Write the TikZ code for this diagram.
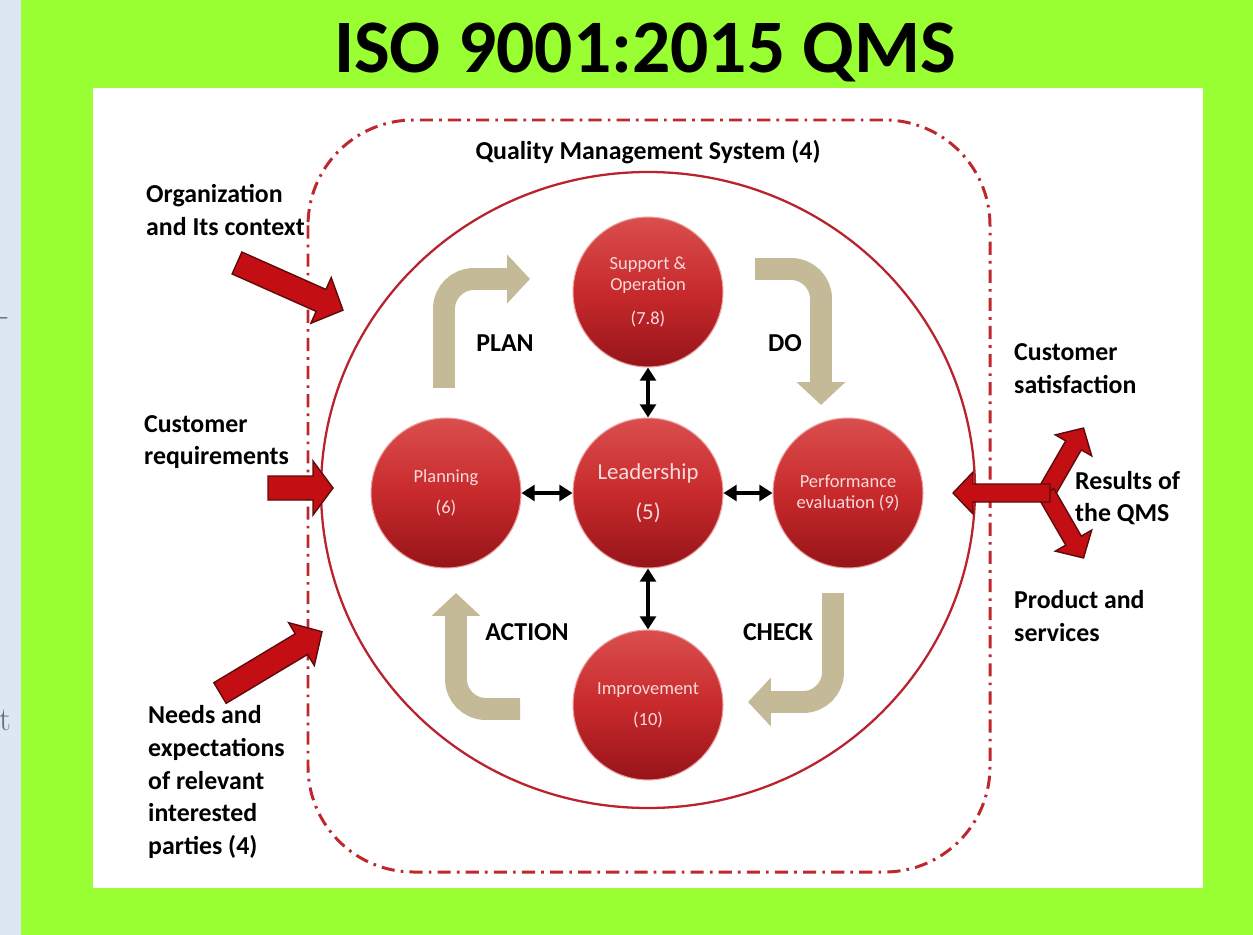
\documentclass[tikz,border=0pt]{standalone}
\usepackage{fontspec}
\newfontfamily\calibri{Carlito}
\usetikzlibrary{arrows.meta}

\definecolor{limebg}{RGB}{153,255,51}
\definecolor{stripblue}{RGB}{221,230,243}
\definecolor{boxred}{RGB}{190,40,45}
\definecolor{ringred}{RGB}{185,35,45}
\definecolor{ballred}{RGB}{200,42,44}
\definecolor{balltop}{RGB}{218,78,78}
\definecolor{ballbot}{RGB}{150,20,25}
\definecolor{ballrim}{RGB}{235,160,160}
\definecolor{balltext}{RGB}{248,218,218}
\definecolor{cycletan}{RGB}{196,186,152}
\definecolor{arrowred}{RGB}{195,15,20}
\definecolor{arrowedge}{RGB}{95,10,10}
\definecolor{fraggray}{RGB}{110,110,110}

\tikzset{
  sphere/.style={circle, minimum size=3cm, inner sep=0pt, top color=balltop,
    bottom color=ballbot, middle color=ballred, draw=ballrim, line width=0.6pt,
    text=balltext, align=center, font=\calibri\fontsize{10.5}{12}\selectfont},
  label/.style={align=left, anchor=west, font=\calibri\bfseries\fontsize{14.7}{18.7}\selectfont},
  phase/.style={font=\calibri\bfseries\fontsize{14.7}{18.7}\selectfont},
  link/.style={line width=2.2pt, {Triangle[length=7.5pt,width=9pt]}-{Triangle[length=7.5pt,width=9pt]}},
  cyclearr/.style={cycletan, line width=12.5pt, rounded corners=17pt,
    -{Triangle[length=13pt,width=27pt]}},
  qmsbox/.style={boxred, line width=1.7pt, rounded corners=60pt,
    dash pattern=on 7.5pt off 3.5pt on 1.5pt off 3.5pt},
  redarrow/.style={fill=arrowred, draw=arrowedge, line width=0.8pt},
  fragtext/.style={text=fraggray, font=\fontsize{19}{20}\selectfont, inner sep=0pt},
  pics/blockarrow/.style args={#1/#2/#3/#4}{code={%
    \path[redarrow] (0,-#2) -- ({#1-#4},-#2) -- ({#1-#4},-#3) -- (#1,0)
      -- ({#1-#4},#3) -- ({#1-#4},#2) -- (0,#2) -- cycle;}}
}

\begin{document}
\begin{tikzpicture}[x=0.02cm,y=-0.02cm]
  \useasboundingbox (0,0) rectangle (1253,935);
  % backgrounds
  \fill[stripblue] (0,0) rectangle (21,935);
  \fill[limebg] (21,0) rectangle (1253,935);
  \fill[white] (93,88) rectangle (1203,888);
  \node[fragtext] (fragdash) at (4,322) {-};
  \node[fragtext] (fragt) at (5,720) {t};

  \node[font=\calibri\bfseries\fontsize{43}{43}\selectfont] (title) at (645,52) {ISO 9001:2015 QMS};

  % system boundary and ring
  \draw[qmsbox] (308,120) rectangle (990,872);
  \draw[ringred, line width=1.3pt] (648,490) ellipse [x radius=327, y radius=318];
  \node[phase] (qms) at (648,152) {Quality Management System (4)};

  % PDCA arrows
  \draw[cyclearr] (444,388) -- (444,279) -- (530,279);
  \draw[cyclearr] (755,269) -- (821,269) -- (821,405);
  \draw[cyclearr] (833,593) -- (833,702) -- (748,702);
  \draw[cyclearr] (520,709) -- (456,709) -- (456,593);
  \node[phase] (lplan) at (505,343) {PLAN};
  \node[phase] (ldo) at (785,343) {DO};
  \node[phase] (laction) at (527,632) {ACTION};
  \node[phase] (lcheck) at (778,632) {CHECK};

  % clauses
  \node[sphere] (supp) at (648,292) {Support \&\\Operation\\[7pt](7.8)};
  \node[sphere] (plan) at (446,493) {Planning\\[6pt](6)};
  \node[sphere, font=\calibri\fontsize{13}{15.6}\selectfont] (lead) at (648,493) {Leadership\\[7pt](5)};
  \node[sphere] (perf) at (848,493) {Performance\\evaluation (9)};
  \node[sphere] (impr) at (648,705) {Improvement\\[5.5pt](10)};

  \draw[link] (lead) -- (supp);
  \draw[link] (lead) -- (plan);
  \draw[link] (lead) -- (perf);
  \draw[link] (lead) -- (impr);

  % inputs
  \pic[rotate=-24] at (237,263) {blockarrow=116/12/25/24};
  \pic at (268,488) {blockarrow=65/12/27/20};
  \pic[rotate=31] at (220,693) {blockarrow=119/12/25/24};
  \node[label] (org) at (140,210) {Organization\\and Its context};
  \node[label] (custreq) at (138,442) {Customer\\requirements};
  \node[label] (needs) at (142,782) {Needs and\\expectations\\of relevant\\interested\\parties (4)};

  % outputs
  \pic[rotate=60] at (1046,493) {blockarrow=75/9/21/20};
  \pic[rotate=-60] at (1046,493) {blockarrow=75/9/21/20};
  \pic[rotate=180] at (1050,493) {blockarrow=97/9/21/20};
  \node[label] (custsat) at (1008,369) {Customer\\satisfaction};
  \node[label] (results) at (1069,498) {Results of\\the QMS};
  \node[label] (product) at (1008,616) {Product and\\services};
\end{tikzpicture}
\end{document}
